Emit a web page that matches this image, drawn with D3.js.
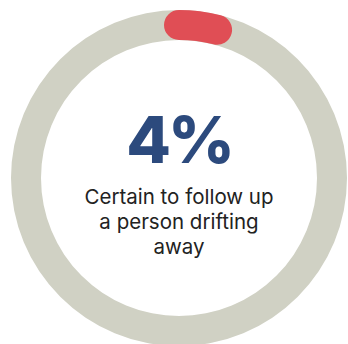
<!DOCTYPE html>
<html><head><meta charset="utf-8">
<script src="https://cdn.jsdelivr.net/npm/d3@7"></script>
<style>html,body{margin:0;padding:0;background:#fff;overflow:hidden}</style>
</head><body>
<svg id="c" width="348" height="344"></svg>
<script>
const percentValue = 4;
const totalValue = 100;
const valueLabel = "4%";
const captionLines = ["Certain to follow up", "a person drifting", "away"];

const svg = d3.select("#c");
const cx = 179, cy = 178, rMid = 153, thick = 30;
const g = svg.append("g").attr("transform", `translate(${cx},${cy})`);
const angle = d3.scaleLinear().domain([0, totalValue]).range([0, 2 * Math.PI]);

const arc = d3.arc().innerRadius(rMid - thick / 2).outerRadius(rMid + thick / 2);
g.append("path").attr("d", arc({startAngle: 0, endAngle: 2 * Math.PI})).attr("fill", "#d0d1c4");

const p = d3.path();
const a0 = angle(0) - Math.PI / 2, a1 = angle(percentValue) - Math.PI / 2;
p.moveTo(rMid * Math.cos(a0), rMid * Math.sin(a0));
p.arc(0, 0, rMid, a0, a1);
g.append("path").attr("d", p.toString()).attr("fill", "none")
  .attr("stroke", "#e04e55").attr("stroke-width", thick).attr("stroke-linecap", "round");

g.append("text").attr("x", 0).attr("y", -15).attr("text-anchor", "middle")
  .attr("font-family", "Inter, 'Open Sans', sans-serif").attr("font-weight", 800)
  .attr("font-size", 65).attr("letter-spacing", -3).attr("fill", "#2c4a7d").text(valueLabel);

g.selectAll("text.cap").data(captionLines).join("text").attr("class", "cap")
  .attr("x", 0).attr("y", (d, i) => 26 + i * 25).attr("text-anchor", "middle")
  .attr("font-family", "Inter, 'Open Sans', sans-serif").attr("font-size", 20.5)
  .attr("fill", "#222").text(d => d);
</script>
</body></html>
